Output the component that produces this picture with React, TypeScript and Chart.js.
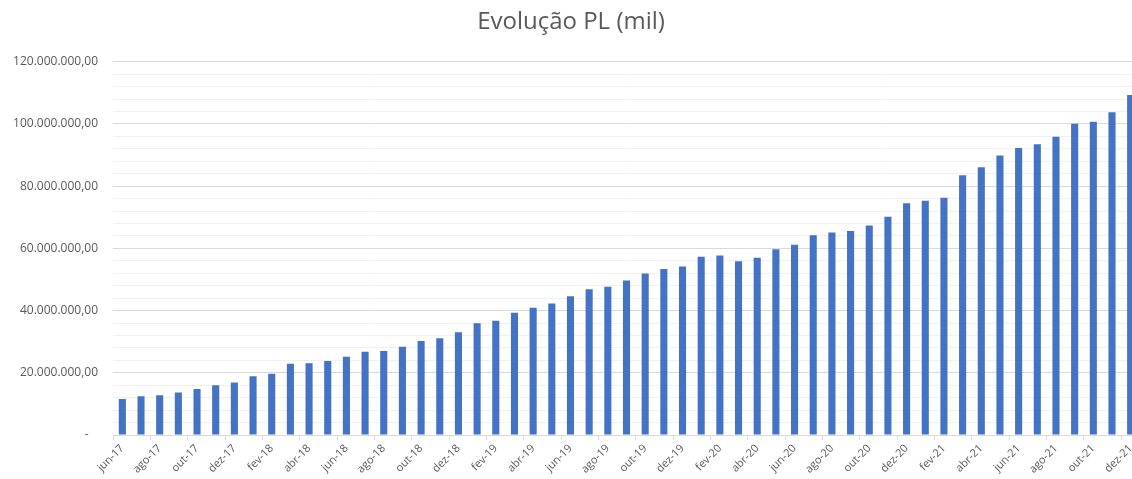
import React, { useEffect, useRef } from "react";
import { Chart, registerables } from "chart.js";

Chart.register(...registerables);

const categories: string[] = [
  "jun-17", "jul-17", "ago-17", "set-17", "out-17", "nov-17", "dez-17",
  "jan-18", "fev-18", "mar-18", "abr-18", "mai-18", "jun-18", "jul-18", "ago-18", "set-18", "out-18", "nov-18", "dez-18",
  "jan-19", "fev-19", "mar-19", "abr-19", "mai-19", "jun-19", "jul-19", "ago-19", "set-19", "out-19", "nov-19", "dez-19",
  "jan-20", "fev-20", "mar-20", "abr-20", "mai-20", "jun-20", "jul-20", "ago-20", "set-20", "out-20", "nov-20", "dez-20",
  "jan-21", "fev-21", "mar-21", "abr-21", "mai-21", "jun-21", "jul-21", "ago-21", "set-21", "out-21", "nov-21", "dez-21",
];

const plValues: number[] = [
  11600000, 12500000, 12750000, 13700000, 14800000, 16000000, 16900000,
  18900000, 19700000, 22900000, 23100000, 23800000, 25200000, 26800000, 27000000, 28400000, 30200000, 31100000, 33000000,
  35900000, 36750000, 39300000, 40900000, 42300000, 44600000, 46900000, 47700000, 49700000, 51900000, 53400000, 54200000,
  57300000, 57750000, 55900000, 57000000, 59700000, 61200000, 64200000, 65100000, 65600000, 67400000, 70200000, 74500000,
  75300000, 76300000, 83500000, 86100000, 89900000, 92250000, 93500000, 95900000, 100100000, 100700000, 103800000, 109300000,
];

const yMax = 120000000;
const yMinorStep = 4000000;
const yMajorStep = 20000000;

function formatBR(v: number): string {
  const intPart = Math.round(v).toString().replace(/\B(?=(\d{3})+(?!\d))/g, ".");
  return intPart + ",00";
}

export default function App() {
  const ref = useRef<HTMLCanvasElement | null>(null);

  useEffect(() => {
    document.body.style.overflow = "hidden";
    const canvas = ref.current;
    if (!canvas) return;
    const font = "'Open Sans', sans-serif";
    const chart = new Chart(canvas, {
      type: "bar",
      data: {
        labels: categories,
        datasets: [
          {
            label: "PL",
            data: plValues,
            backgroundColor: "#4472C4",
            borderWidth: 0,
            barPercentage: 0.38,
            categoryPercentage: 1,
          },
        ],
      },
      options: {
        responsive: false,
        animation: false,
        layout: { padding: { left: 0, right: 0, top: 0, bottom: 0 } },
        plugins: {
          legend: { display: false },
          tooltip: { enabled: false },
          title: {
            display: true,
            text: "Evolução PL (mil)",
            color: "#595959",
            font: { family: font, size: 24, weight: "normal" },
            padding: { top: 8, bottom: 25 },
          },
        },
        scales: {
          x: {
            grid: {
              display: true,
              drawOnChartArea: false,
              drawTicks: true,
              tickLength: 5,
              color: (ctx: any) => (ctx.index % 2 === 0 ? "#d9d9d9" : "rgba(0,0,0,0)"),
            },
            border: { display: true, color: "#d9d9d9", width: 1 },
            ticks: {
              autoSkip: false,
              minRotation: 45,
              maxRotation: 45,
              color: "#595959",
              padding: 2,
              font: { family: font, size: 11 },
              callback: (_v: any, i: number) => (i % 2 === 0 ? categories[i] : ""),
            },
            afterFit: (scale: any) => {
              scale.height = 44;
            },
          },
          y: {
            min: 0,
            max: yMax,
            grid: {
              drawTicks: false,
              color: (ctx: any) =>
                ctx.tick && ctx.tick.value % yMajorStep === 0 ? "#d9d9d9" : "#f0f0f0",
            },
            border: { display: false },
            ticks: {
              stepSize: yMinorStep,
              autoSkip: false,
              color: "#595959",
              padding: 15,
              font: { family: font, size: 12 },
              callback: (v: any) => {
                const n = Number(v);
                if (n === 0) return "-   ";
                return n % yMajorStep === 0 ? formatBR(n) : "";
              },
            },
            afterFit: (scale: any) => {
              scale.width = 113;
            },
          },
        },
      },
    });
    return () => chart.destroy();
  }, []);

  return (
    <div style={{ position: "fixed", left: 0, top: 0, width: 1142, height: 479, background: "#fff" }}>
      <canvas ref={ref} width={1142} height={479} style={{ display: "block" }} />
    </div>
  );
}
